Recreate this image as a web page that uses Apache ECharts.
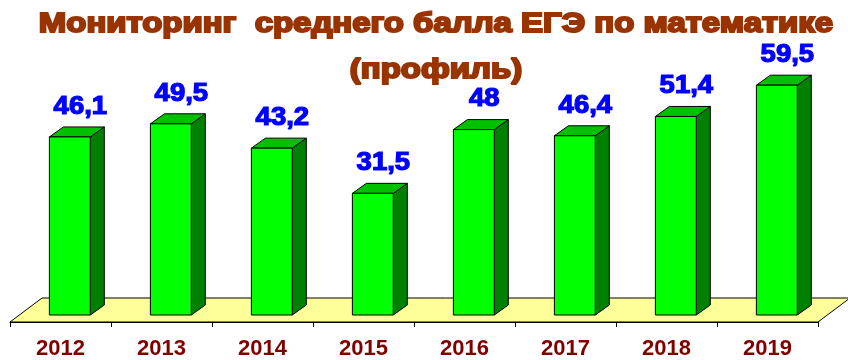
<!DOCTYPE html>
<html>
<head>
<meta charset="utf-8">
<script src="https://cdn.jsdelivr.net/npm/echarts@6/dist/echarts.min.js"></script>
<style>
  html, body { margin: 0; padding: 0; background: #ffffff; }
  #chart { width: 848px; height: 360px; }
</style>
</head>
<body>
<div id="chart"></div>
<script>
// Average profile-level maths exam score by year
const years = ['2012', '2013', '2014', '2015', '2016', '2017', '2018', '2019'];
const scores = [46.1, 49.5, 43.2, 31.5, 48, 46.4, 51.4, 59.5];

const titleLines = ['Мониторинг  среднего балла ЕГЭ по математике', '(профиль)'];

const FONT = '"Liberation Sans", Arial, sans-serif';
const TITLE_COLOR = '#993300';
const VALUE_COLOR = '#0000ff';

// pseudo-3D depth of the bars and of the floor
const BAR_DX = 14, BAR_DY = 10;
const FLOOR_DX = 32, FLOOR_DY = 24;
const BAR_LIFT = 7;

function fmt(v) {
  return String(v).replace('.', ',');
}

function renderFloor(params, api) {
  const cs = params.coordSys;
  const x0 = cs.x, x1 = cs.x + cs.width, y0 = cs.y + cs.height;
  return {
    type: 'polygon',
    shape: { points: [[x0, y0], [x1, y0], [x1 + FLOOR_DX, y0 - FLOOR_DY], [x0 + FLOOR_DX, y0 - FLOOR_DY]] },
    style: { fill: '#ffff99', stroke: '#000000', lineWidth: 1 }
  };
}

function renderBar(params, api) {
  const i = api.value(0), v = api.value(1);
  const base = api.coord([i, 0]);
  const top = api.coord([i, v]);
  const bw = api.size([1, 0])[0];
  const xl = base[0] - bw * 0.11;
  const xr = xl + bw * 0.405;
  const yb = base[1] - BAR_LIFT;
  const yt = top[1] - BAR_LIFT;
  const edge = { stroke: '#000000', lineWidth: 1 };
  return {
    type: 'group',
    children: [
      {
        type: 'polygon',
        shape: { points: [[xr, yt], [xr + BAR_DX, yt - BAR_DY], [xr + BAR_DX, yb - BAR_DY], [xr, yb]] },
        style: Object.assign({ fill: '#008000' }, edge)
      },
      {
        type: 'polygon',
        shape: { points: [[xl, yt], [xl + BAR_DX, yt - BAR_DY], [xr + BAR_DX, yt - BAR_DY], [xr, yt]] },
        style: Object.assign({ fill: '#00c000' }, edge)
      },
      {
        type: 'rect',
        shape: { x: xl, y: yt, width: xr - xl, height: yb - yt },
        style: Object.assign({ fill: '#00ff00' }, edge)
      },
      {
        type: 'text',
        x: (xl + xr + BAR_DX) / 2 + 3.5,
        y: yt - BAR_DY - 20,
        scaleX: 1.1,
        style: {
          text: fmt(v),
          x: 0,
          y: 0,
          align: 'center',
          verticalAlign: 'middle',
          font: 'bold 25px ' + FONT,
          fill: VALUE_COLOR,
          stroke: VALUE_COLOR,
          lineWidth: 1.2,
          lineJoin: 'round'
        }
      }
    ]
  };
}

function titleText(text, y) {
  return {
    type: 'text',
    x: 436,
    y: y,
    scaleX: 1.22,
    silent: true,
    style: {
      text: text,
      x: 0,
      y: 0,
      align: 'center',
      verticalAlign: 'middle',
      font: 'bold 27px ' + FONT,
      fill: TITLE_COLOR,
      stroke: TITLE_COLOR,
      lineWidth: 2,
      lineJoin: 'round'
    }
  };
}

const chart = echarts.init(document.getElementById('chart'), null, { renderer: 'canvas' });

chart.setOption({
  animation: false,
  backgroundColor: '#ffffff',
  graphic: [titleText(titleLines[0], 25), titleText(titleLines[1], 71)],
  grid: { left: 10, right: 30, top: 13, bottom: 37 },
  xAxis: {
    type: 'category',
    data: years,
    axisLine: { show: true, lineStyle: { color: '#000000', width: 1 } },
    axisTick: { show: true, length: 5, lineStyle: { color: '#000000' } },
    axisLabel: {
      color: '#800000',
      fontFamily: FONT,
      fontWeight: 'bold',
      fontSize: 22,
      margin: 16
    },
    splitLine: { show: false }
  },
  yAxis: {
    type: 'value',
    min: 0,
    max: 80,
    show: false
  },
  series: [
    {
      type: 'custom',
      z: 1,
      renderItem: renderFloor,
      data: [[0, 0]],
      silent: true
    },
    {
      type: 'custom',
      z: 3,
      renderItem: renderBar,
      data: scores.map((v, i) => [i, v]),
      encode: { x: 0, y: 1 }
    }
  ]
});
</script>
</body>
</html>
